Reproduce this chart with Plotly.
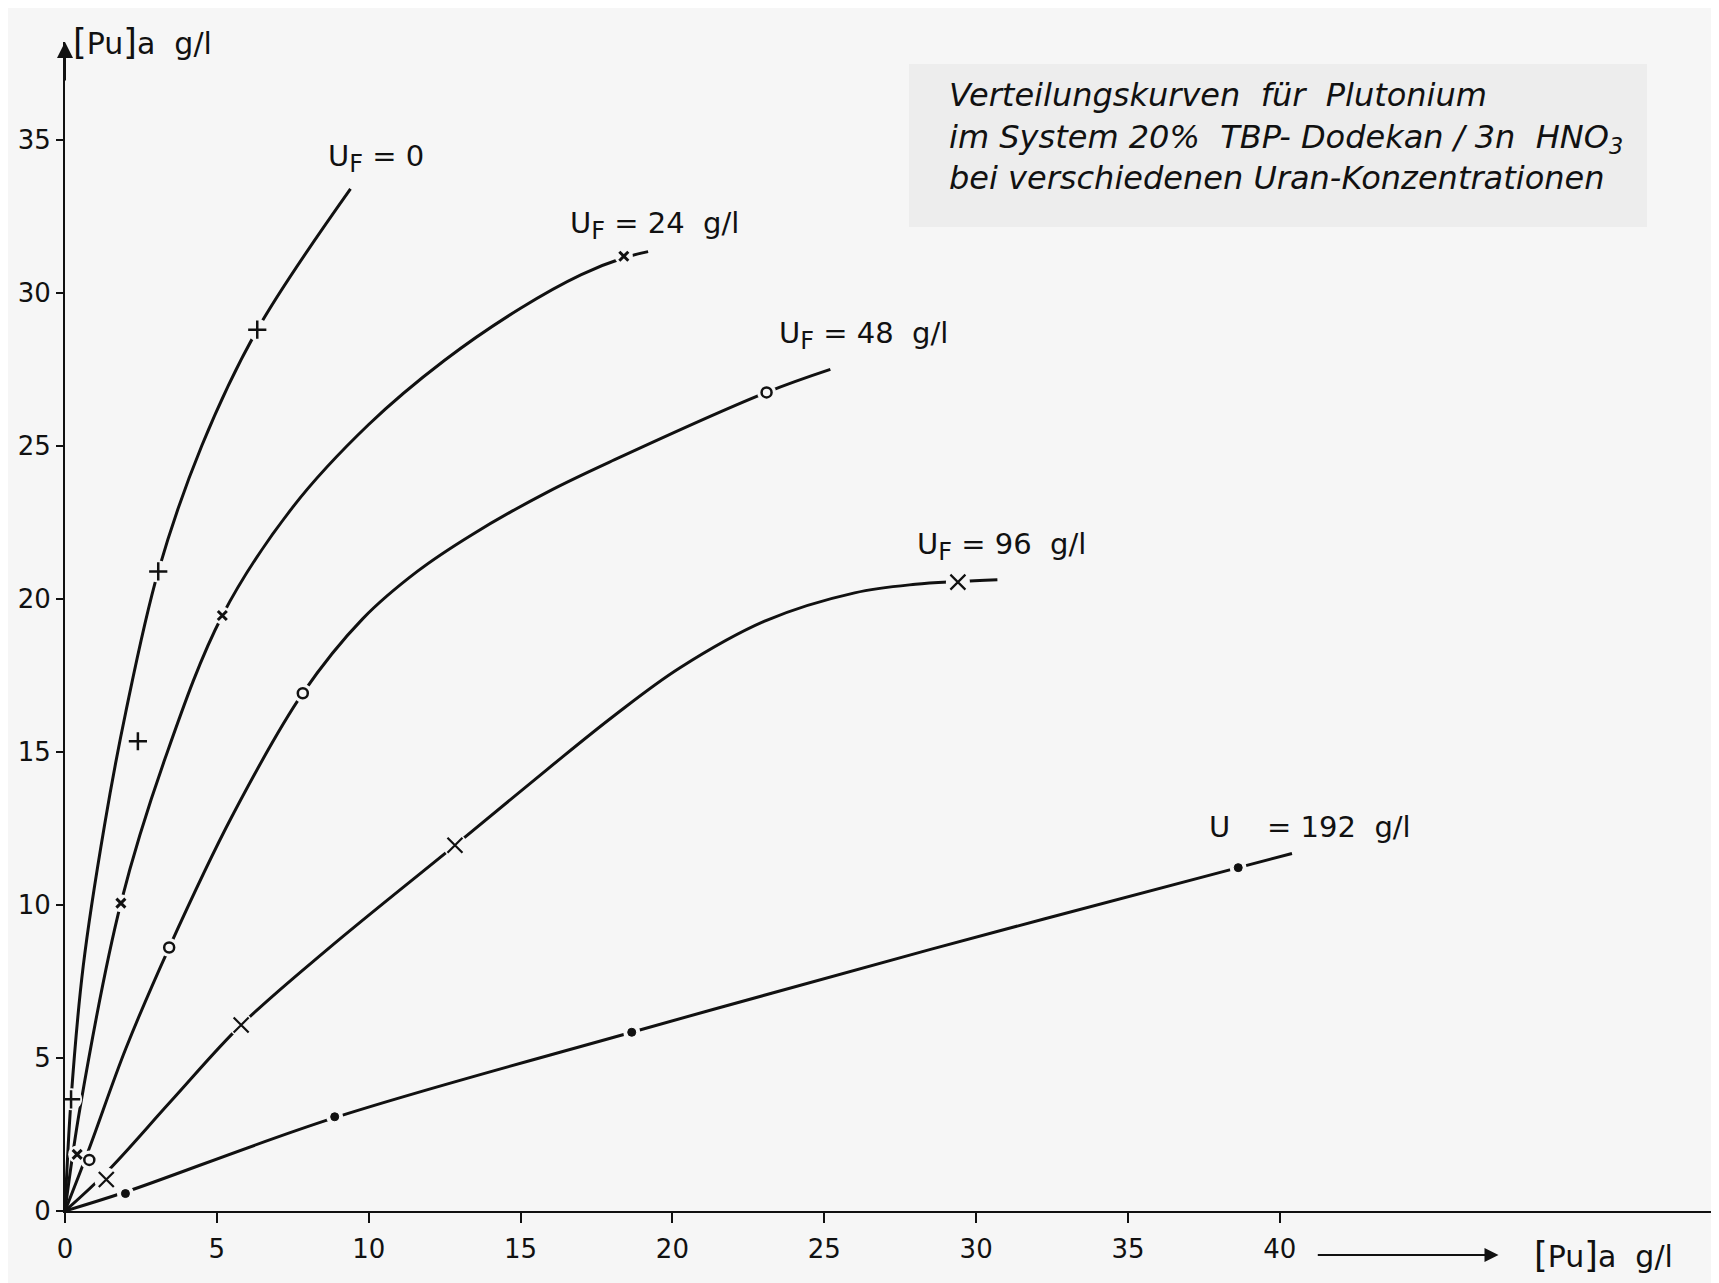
import plotly.graph_objects as go

# ---------------- data ----------------
x_ticks = [0, 5, 10, 15, 20, 25, 30, 35, 40]
y_ticks = [0, 5, 10, 15, 20, 25, 30, 35]

SUB_F = "U<sub><span style='font-size:24px'>F</span></sub>"
series_names = [SUB_F + " = 0", SUB_F + " = 24&nbsp; g/l", SUB_F + " = 48&nbsp; g/l",
                SUB_F + " = 96&nbsp; g/l", "U&nbsp;&nbsp;&nbsp; = 192&nbsp; g/l"]

# measured points
uf0_x = [0.2, 2.4, 3.07, 6.33]
uf0_y = [3.65, 15.35, 20.9, 28.8]
uf24_x = [0.4, 1.84, 5.18, 18.4]
uf24_y = [1.85, 10.06, 19.46, 31.2]
uf48_x = [0.8, 3.43, 7.83, 23.1]
uf48_y = [1.67, 8.61, 16.92, 26.75]
uf96_x = [1.36, 5.8, 12.84, 29.4]
uf96_y = [1.03, 6.08, 11.95, 20.55]
u192_x = [1.99, 8.88, 18.66, 38.63]
u192_y = [0.57, 3.08, 5.84, 11.22]

# drawn (fitted) curves
uf0_cx = [0, 0.2, 0.6, 1.3, 2.0, 3.07, 4.5, 6.33, 9.4]
uf0_cy = [0, 3.65, 8.0, 12.6, 16.3, 20.9, 25.0, 28.8, 33.4]
uf24_cx = [0, 0.5, 1.84, 3.3, 5.18, 7.5, 10.0, 12.5, 15.0, 17.0, 18.4, 19.2]
uf24_cy = [0, 3.4, 10.06, 14.8, 19.46, 23.0, 25.7, 27.8, 29.5, 30.6, 31.15, 31.35]
uf48_cx = [0, 0.8, 2.0, 3.43, 5.5, 7.83, 9.8, 11.6, 13.4, 15.9, 18.1, 23.1, 25.2]
uf48_cy = [0, 2.05, 5.3, 8.61, 12.9, 16.92, 19.35, 20.9, 22.1, 23.5, 24.55, 26.75, 27.5]
uf96_cx = [0, 1.4, 3.5, 5.8, 8.7, 12.84, 15.9, 18.1, 20.25, 23.1, 26.0, 28.0, 29.4, 30.7]
uf96_cy = [0, 1.3, 3.6, 6.08, 8.6, 11.95, 14.45, 16.2, 17.75, 19.3, 20.2, 20.48, 20.57, 20.63]
u192_cx = [0, 1.99, 8.88, 18.66, 28.5, 38.63, 40.4]
u192_cy = [0, 0.62, 3.05, 5.84, 8.55, 11.22, 11.68]

# label anchor positions (data units, left edge / vertical centre)
label_x = [8.6, 16.55, 23.45, 28.0, 37.6]
label_y = [34.4, 32.2, 28.6, 21.7, 12.55]

title_lines = ["Verteilungskurven  für  Plutonium",
               "im System 20%  TBP- Dodekan / 3n  HNO<sub>3</sub>",
               "bei verschiedenen Uran-Konzentrationen"]
axis_label = ("<span style='font-size:35px'>[</span>Pu<span style='font-size:35px'>]</span>"
              "a&nbsp;&nbsp;g/l")

# ---------------- styling ----------------
BG = "#f6f6f6"
INK = "#111111"
FONT = "DejaVu Sans"

pts = [(uf0_x, uf0_y), (uf24_x, uf24_y), (uf48_x, uf48_y), (uf96_x, uf96_y), (u192_x, u192_y)]
curves = [(uf0_cx, uf0_cy), (uf24_cx, uf24_cy), (uf48_cx, uf48_cy), (uf96_cx, uf96_cy), (u192_cx, u192_cy)]
symbols = ["cross-thin", "x-thin", "circle-open", "x-thin", "circle"]
sizes = [13, 9, 10, 15, 8]
mwidth = [2.5, 3, 2.5, 2.2, 1]

fig = go.Figure()
for cx, cy in curves:
    fig.add_trace(go.Scatter(x=cx, y=cy, mode="lines",
                             line=dict(color=INK, width=3, shape="spline", smoothing=1.0),
                             hoverinfo="skip", showlegend=False, cliponaxis=False))
# small gaps around the markers
for (px, py), s in zip(pts, sizes):
    fig.add_trace(go.Scatter(x=px, y=py, mode="markers",
                             marker=dict(symbol="circle", size=s + 9, color=BG, line=dict(width=0)),
                             hoverinfo="skip", showlegend=False))
for (px, py), sym, s, w in zip(pts, symbols, sizes, mwidth):
    fig.add_trace(go.Scatter(x=px, y=py, mode="markers",
                             marker=dict(symbol=sym, size=s, color=INK, line=dict(color=INK, width=w)),
                             showlegend=False))

annotations = []
for name, lx, ly in zip(series_names, label_x, label_y):
    annotations.append(dict(x=lx, y=ly, xref="x", yref="y", text=name, showarrow=False,
                            xanchor="left", yanchor="middle",
                            font=dict(family=FONT, size=29, color=INK)))

# title block
annotations.append(dict(x=0.533, y=0.919, xref="paper", yref="paper",
                        text="<br>".join(title_lines), showarrow=False, align="left",
                        xanchor="left", yanchor="middle",
                        font=dict(family=FONT, size=32, color=INK, style="italic")))

# y axis label and arrow head
annotations.append(dict(x=0, y=1, xref="x", yref="paper", text=axis_label, showarrow=False,
                        xanchor="left", yanchor="middle", xshift=6, yshift=0,
                        font=dict(family=FONT, size=30, color=INK)))
annotations.append(dict(x=0, y=38.2, xref="x", yref="y", ax=0, ay=40, axref="pixel", ayref="pixel",
                        text="", showarrow=True, arrowhead=2, arrowsize=1.6, arrowwidth=2,
                        arrowcolor=INK, standoff=0))

# x axis label with arrow
annotations.append(dict(x=47.2, y=0, xref="x", yref="paper", ax=41.2, ay=0, axref="x", ayref="pixel",
                        yshift=-44, text="", showarrow=True, arrowhead=2, arrowsize=1.4,
                        arrowwidth=2, arrowcolor=INK, standoff=0))
annotations.append(dict(x=48.3, y=0, xref="x", yref="paper", yshift=-44, text=axis_label,
                        showarrow=False, xanchor="left", yanchor="middle",
                        font=dict(family=FONT, size=30, color=INK)))

shapes = [dict(type="rect", xref="paper", yref="paper",
               x0=(909 - 65) / 1654, x1=(1647 - 65) / 1654,
               y0=(1211 - 227) / 1169, y1=(1211 - 64) / 1169,
               fillcolor="#ededed", line=dict(width=0), layer="below")]

fig.update_layout(
    width=1719, height=1283,
    margin=dict(l=57, r=8, t=34, b=80),
    paper_bgcolor=BG, plot_bgcolor=BG,
    annotations=annotations, shapes=shapes,
    showlegend=False,
    xaxis=dict(range=[0, 54.46], tickvals=x_ticks, ticktext=[str(v) for v in x_ticks],
               showgrid=False, zeroline=False, showline=True, linecolor=INK, linewidth=2,
               ticks="outside", ticklen=10, tickwidth=2, tickcolor=INK,
               tickfont=dict(family=FONT, size=26, color=INK), ticklabelstandoff=4),
    yaxis=dict(range=[0, 38.2], tickvals=y_ticks, ticktext=[str(v) for v in y_ticks],
               showgrid=False, zeroline=False, showline=True, linecolor=INK, linewidth=2,
               ticks="outside", ticklen=7, tickwidth=2, tickcolor=INK,
               tickfont=dict(family=FONT, size=26, color=INK), ticklabelstandoff=0),
)

fig.write_html("out.html")
